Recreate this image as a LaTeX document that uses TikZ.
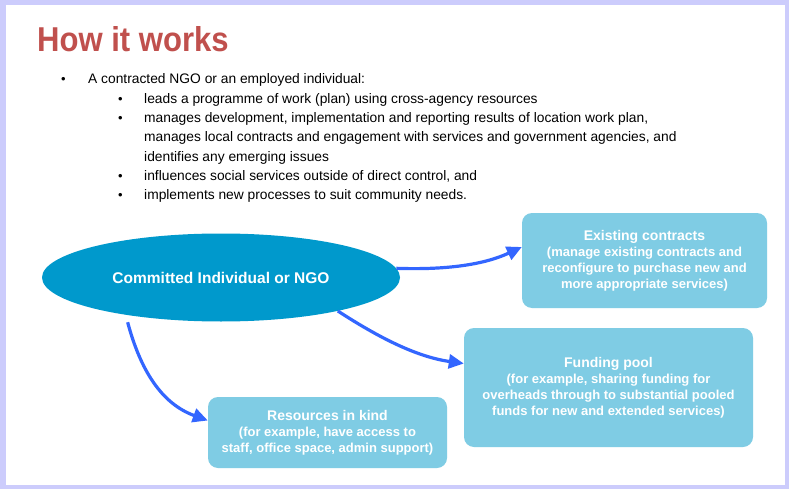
\documentclass[tikz,border=0pt]{standalone}
\usepackage{fontspec}
\setmainfont{Liberation Sans}
\usetikzlibrary{shapes.geometric,arrows.meta,calc}

\definecolor{framelav}{RGB}{204,204,252}
\definecolor{titlered}{RGB}{192,80,77}
\definecolor{ellblue}{RGB}{0,153,204}
\definecolor{boxblue}{RGB}{127,204,228}
\definecolor{arrowblue}{RGB}{51,102,255}

\newcommand{\boxhead}[1]{{\fontsize{14}{16}\selectfont #1}}

\tikzset{
  bodytext/.style={anchor=base west, inner sep=0pt, font=\fontsize{13.8}{16}\selectfont},
  bulletmark/.style={anchor=base west, inner sep=0pt, font=\fontsize{13}{16}\selectfont},
  infobox/.style={rectangle, rounded corners=10pt, fill=boxblue, text=white,
    align=center, inner sep=0pt, font=\bfseries\fontsize{13}{16}\selectfont},
  flow/.style={draw=arrowblue, line width=3.2pt,
    -{Triangle[length=15pt,width=14pt]}},
}

\begin{document}
\begin{tikzpicture}[x=1pt,y=-1pt]
  % page frame
  \fill[framelav] (0,0) rectangle (789,489);
  \fill[white] (6,5) rectangle (785,485);
  \useasboundingbox (0,0) rectangle (789,489);

  % heading
  \node[anchor=base west, inner sep=0pt, text=titlered,
        font=\bfseries\fontsize{34.5}{36}\selectfont] (title) at (37,52)
        {\scalebox{0.9}[1]{How it works}};

  % bullet list
  \node[bulletmark] (b0) at (61,84) {•};
  \node[bodytext] (t0) at (88,84) {A contracted NGO or an employed individual:};
  \node[bulletmark] (b1) at (118,103.3) {•};
  \node[bodytext] (t1) at (144,103.3) {leads a programme of work (plan) using cross-agency resources};
  \node[bulletmark] (b2) at (118,122.6) {•};
  \node[bodytext] (t2) at (144,122.6) {manages development, implementation and reporting results of location work plan,};
  \node[bodytext] (t3) at (144,141.9) {manages local contracts and engagement with services and government agencies, and};
  \node[bodytext] (t4) at (144,161.2) {identifies any emerging issues};
  \node[bulletmark] (b3) at (118,180.5) {•};
  \node[bodytext] (t5) at (144,180.5) {influences social services outside of direct control, and};
  \node[bulletmark] (b4) at (118,199.8) {•};
  \node[bodytext] (t6) at (144,199.8) {implements new processes to suit community needs.};

  % central actor
  \node[ellipse, fill=ellblue, text=white, minimum width=358pt, minimum height=88pt,
        inner sep=0pt, font=\bfseries\fontsize{15.5}{17}\selectfont] (ngo) at (221,277.5)
        {Committed Individual or NGO};

  % outcome boxes
  \node[infobox, minimum width=245pt, minimum height=95pt] (ec) at (644.5,260.5)
    {\boxhead{Existing contracts}\\(manage existing contracts and\\reconfigure to purchase new and\\more appropriate services)};
  \node[infobox, minimum width=289pt, minimum height=119pt] (fp) at (608.5,387.5)
    {\boxhead{Funding pool}\\(for example, sharing funding for\\overheads through to substantial pooled\\funds for new and extended services)};
  \node[infobox, minimum width=239pt, minimum height=71pt] (rk) at (327.5,432.5)
    {\boxhead{Resources in kind}\\(for example, have access to\\staff, office space, admin support)};

  % connectors
  \draw[flow] (ngo.3.4) to[out=-2, in=205, looseness=0.9] ([yshift=13.5pt]ec.west);
  \draw[flow] (ngo.-16.4) to[out=-33, in=172, looseness=0.9] ([yshift=24pt]fp.west);
  \draw[flow] ([yshift=-7pt]ngo.-158.9) to[out=-75, in=160, looseness=1] ([yshift=12pt]rk.west);
\end{tikzpicture}
\end{document}
